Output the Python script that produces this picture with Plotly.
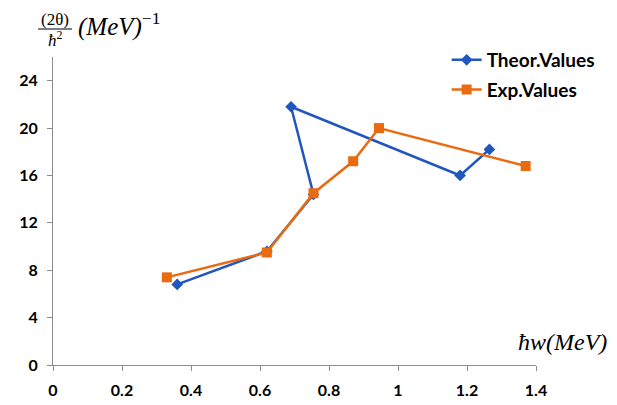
import plotly.graph_objects as go

theor_x = [0.36, 0.62, 0.755, 0.69, 1.18, 1.265]
theor_y = [6.8, 9.6, 14.4, 21.8, 16.0, 18.2]
exp_x = [0.33, 0.62, 0.755, 0.87, 0.945, 1.37]
exp_y = [7.4, 9.5, 14.5, 17.2, 20.0, 16.8]
x_ticks = [0, 0.2, 0.4, 0.6, 0.8, 1, 1.2, 1.4]
x_tick_labels = ["0", "0.2", "0.4", "0.6", "0.8", "1", "1.2", "1.4"]
y_ticks = [0, 4, 8, 12, 16, 20, 24]

BLUE = "#2156BF"
ORANGE = "#EA6A10"

fig = go.Figure()
fig.add_trace(go.Scatter(
    x=theor_x, y=theor_y, mode="lines+markers", name="Theor.Values",
    legendgroup="a",
    line=dict(color=BLUE, width=2.5),
    marker=dict(symbol="diamond", size=9, color=BLUE),
))
fig.add_trace(go.Scatter(
    x=exp_x, y=exp_y, mode="lines+markers", name="Exp.Values",
    legendgroup="b",
    line=dict(color=ORANGE, width=2.5),
    marker=dict(symbol="square", size=10, color=ORANGE),
))

# page body has an 8px margin, so the figure is drawn offset by (8, 8)
OFF = 8
tickfont = dict(family="Lato", size=16, color="black", weight="bold")
fig.update_layout(
    width=617 - OFF, height=405 - OFF,
    margin=dict(l=53 - OFF, r=81, t=57 - OFF, b=40, autoexpand=False),
    paper_bgcolor="white", plot_bgcolor="white",
    showlegend=True,
    legend=dict(
        x=0.815, y=1.052, xanchor="left", yanchor="top",
        font=dict(family="Lato", size=19, color="black", weight="bold"),
        tracegroupgap=2, traceorder="grouped",
        bgcolor="rgba(0,0,0,0)",
    ),
    xaxis=dict(
        range=[0, 1.4], tickvals=x_ticks, ticktext=x_tick_labels,
        showgrid=False, zeroline=False, showline=True, linecolor="#8c8c8c",
        linewidth=1, ticks="outside", ticklen=5, tickcolor="#8c8c8c",
        tickfont=tickfont, ticklabelstandoff=6, automargin=False,
    ),
    yaxis=dict(
        range=[0, 26], tickvals=y_ticks,
        showgrid=False, zeroline=False, showline=True, linecolor="#8c8c8c",
        linewidth=1, ticks="outside", ticklen=5, tickcolor="#8c8c8c",
        tickfont=tickfont, ticklabelstandoff=6, automargin=False,
    ),
)

PW, PH = 483, 308
serif = dict(family="Liberation Serif", size=25, color="black", style="italic")
# y-axis title: (2θ)/ħ² (MeV)^-1
fig.add_annotation(xref="paper", yref="paper", x=(55 - 53) / PW, y=(365 - 19) / PH,
                   text="(2θ)", showarrow=False, xanchor="center", yanchor="middle",
                   font=dict(family="Liberation Serif", size=17, color="black"))
fig.add_shape(type="line", xref="paper", yref="paper",
              x0=(38 - 53) / PW, x1=(72 - 53) / PW,
              y0=(365 - 29) / PH, y1=(365 - 29) / PH,
              line=dict(color="black", width=1))
fig.add_annotation(xref="paper", yref="paper", x=(55 - 53) / PW, y=(365 - 39) / PH,
                   text="ħ<sup><span style='font-style:normal'>2</span></sup>",
                   showarrow=False, xanchor="center", yanchor="middle",
                   font=dict(family="Liberation Serif", size=17, color="black", style="italic"))
fig.add_annotation(xref="paper", yref="paper", x=(76 - 53) / PW, y=(365 - 25) / PH,
                   text="(MeV)<sup><span style='font-style:normal'>−1</span></sup>",
                   showarrow=False, xanchor="left", yanchor="middle",
                   font=serif)
# x-axis title
fig.add_annotation(xref="paper", yref="paper", x=(609 - 53) / PW, y=(365 - 342) / PH,
                   text="ħw(MeV)", showarrow=False, xanchor="right", yanchor="middle",
                   font=dict(family="Liberation Serif", size=24, color="black", style="italic"))

fig.write_html("out.html")
